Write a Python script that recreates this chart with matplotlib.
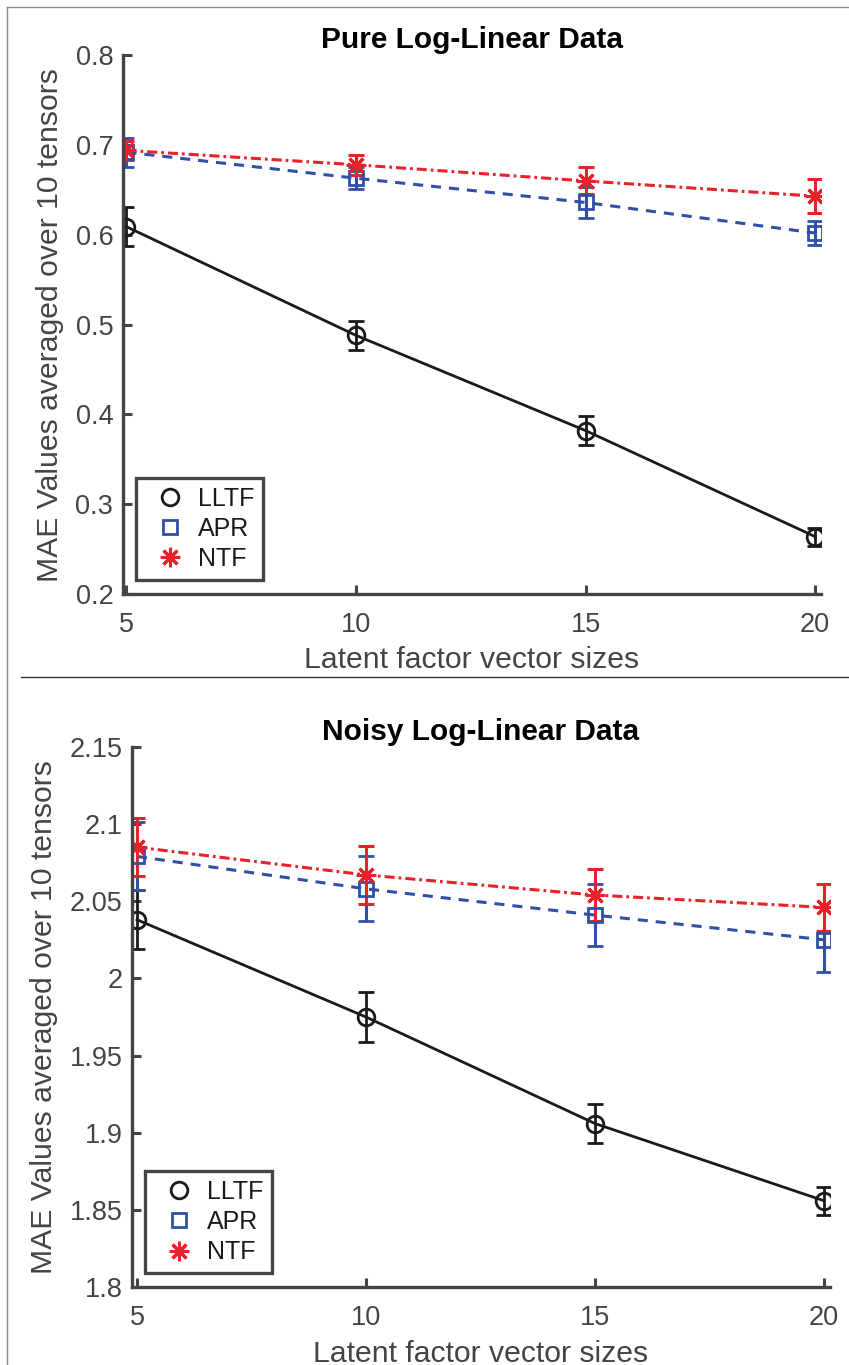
import matplotlib
matplotlib.use("Agg")
import matplotlib.pyplot as plt
from matplotlib.lines import Line2D

plt.rcParams['font.family'] = ['Liberation Sans', 'DejaVu Sans']

sizes = [5, 10, 15, 20]

# Pure log-linear data
pure_lltf = [0.609, 0.488, 0.382, 0.264]
pure_lltf_err = [0.022, 0.016, 0.016, 0.010]
pure_apr = [0.692, 0.663, 0.636, 0.602]
pure_apr_err = [0.016, 0.012, 0.017, 0.013]
pure_ntf = [0.694, 0.678, 0.660, 0.643]
pure_ntf_err = [0.011, 0.011, 0.015, 0.019]

# Noisy log-linear data
noisy_lltf = [2.038, 1.975, 1.906, 1.856]
noisy_lltf_err = [0.019, 0.016, 0.0125, 0.009]
noisy_apr = [2.079, 2.058, 2.041, 2.025]
noisy_apr_err = [0.022, 0.021, 0.020, 0.021]
noisy_ntf = [2.085, 2.067, 2.054, 2.046]
noisy_ntf_err = [0.019, 0.019, 0.017, 0.015]

pure_yticks = [0.2, 0.3, 0.4, 0.5, 0.6, 0.7, 0.8]
pure_ylabels = ['0.2', '0.3', '0.4', '0.5', '0.6', '0.7', '0.8']
noisy_yticks = [1.8, 1.85, 1.9, 1.95, 2.0, 2.05, 2.1, 2.15]
noisy_ylabels = ['1.8', '1.85', '1.9', '1.95', '2', '2.05', '2.1', '2.15']

names = ['LLTF', 'APR', 'NTF']

BLACK = '#1a1a1a'
BLUE = '#3050a8'
RED = '#e8222a'
AXC = '#444444'
STAR = (8, 2, 0)


def panel(ax, lltf, lltf_e, apr, apr_e, ntf, ntf_e, yt, yl, xlim, title):
    ax.errorbar(sizes, lltf, yerr=lltf_e, color=BLACK, lw=2.0, marker='o',
                ms=12, mfc='none', mew=2.0, capsize=6, capthick=2.0,
                elinewidth=2.0)
    ax.errorbar(sizes, apr, yerr=apr_e, color=BLUE, lw=2.2, ls=(0, (3.3, 2.6)),
                marker='s', ms=9.5, mfc='none', mew=2.0, capsize=6,
                capthick=2.2, elinewidth=2.2)
    ax.errorbar(sizes, ntf, yerr=ntf_e, color=RED, lw=2.2,
                ls=(0, (3.3, 1.3, 0.9, 1.3)), marker=STAR, ms=14, mew=2.2,
                capsize=6, capthick=2.2, elinewidth=2.2)

    ax.set_xlim(*xlim)
    ax.set_ylim(yt[0], yt[-1])
    ax.set_xticks(sizes)
    ax.set_yticks(yt)
    ax.set_yticklabels(yl)
    for s in ['top', 'right']:
        ax.spines[s].set_visible(False)
    for s in ['left', 'bottom']:
        ax.spines[s].set_color(AXC)
        ax.spines[s].set_linewidth(2.4)
    ax.tick_params(axis='both', direction='in', length=6.5, width=2.2,
                   colors=AXC, labelsize=19.5)
    ax.tick_params(axis='x', pad=13)
    ax.tick_params(axis='y', pad=7)
    ax.set_xlabel('Latent factor vector sizes', fontsize=21.7, color=AXC,
                  labelpad=6)
    ax.set_ylabel('MAE Values averaged over 10 tensors', fontsize=21.7,
                  color=AXC, labelpad=8)
    ax.set_title(title, fontsize=21.5, fontweight='bold', color='black', pad=5)

    handles = [
        Line2D([], [], color=BLACK, marker='o', ms=12, mfc='none', mew=2.0, ls='none'),
        Line2D([], [], color=BLUE, marker='s', ms=9.5, mfc='none', mew=2.0, ls='none'),
        Line2D([], [], color=RED, marker=STAR, ms=14, mew=2.2, ls='none'),
    ]
    leg = ax.legend(handles, names, loc='lower left',
                    bbox_to_anchor=(0.019, 0.026), borderaxespad=0,
                    fontsize=18, frameon=True, fancybox=False, framealpha=1,
                    edgecolor=AXC, borderpad=0.35, handlelength=2.0,
                    handletextpad=0.1, labelspacing=0.25)
    leg.get_frame().set_linewidth(2.4)
    for t in leg.get_texts():
        t.set_color('#1a1a1a')


fig = plt.figure(figsize=(8.49, 13.65), dpi=100)
W, H = 849, 1365

ax1 = fig.add_axes([123 / W, 1 - 594 / H, 698 / W, 538.8 / H])
panel(ax1, pure_lltf, pure_lltf_err, pure_apr, pure_apr_err, pure_ntf,
      pure_ntf_err, pure_yticks, pure_ylabels, (4.925, 20.13),
      'Pure Log-Linear Data')

ax2 = fig.add_axes([132.2 / W, 1 - 1287.2 / H, 697.5 / W, 540.4 / H])
panel(ax2, noisy_lltf, noisy_lltf_err, noisy_apr, noisy_apr_err, noisy_ntf,
      noisy_ntf_err, noisy_yticks, noisy_ylabels, (4.895, 20.125),
      'Noisy Log-Linear Data')

# frame lines of the figure
fig.add_artist(Line2D([6.5 / W, 6.5 / W], [0, 1 - 6.5 / H], color='#8a8a8a', lw=1.0))
fig.add_artist(Line2D([6.5 / W, 1], [1 - 6.5 / H, 1 - 6.5 / H], color='#8a8a8a', lw=1.0))
fig.add_artist(Line2D([21 / W, 1], [1 - 677 / H, 1 - 677 / H], color='#333333', lw=1.0))

fig.savefig('out.png', dpi=100)
